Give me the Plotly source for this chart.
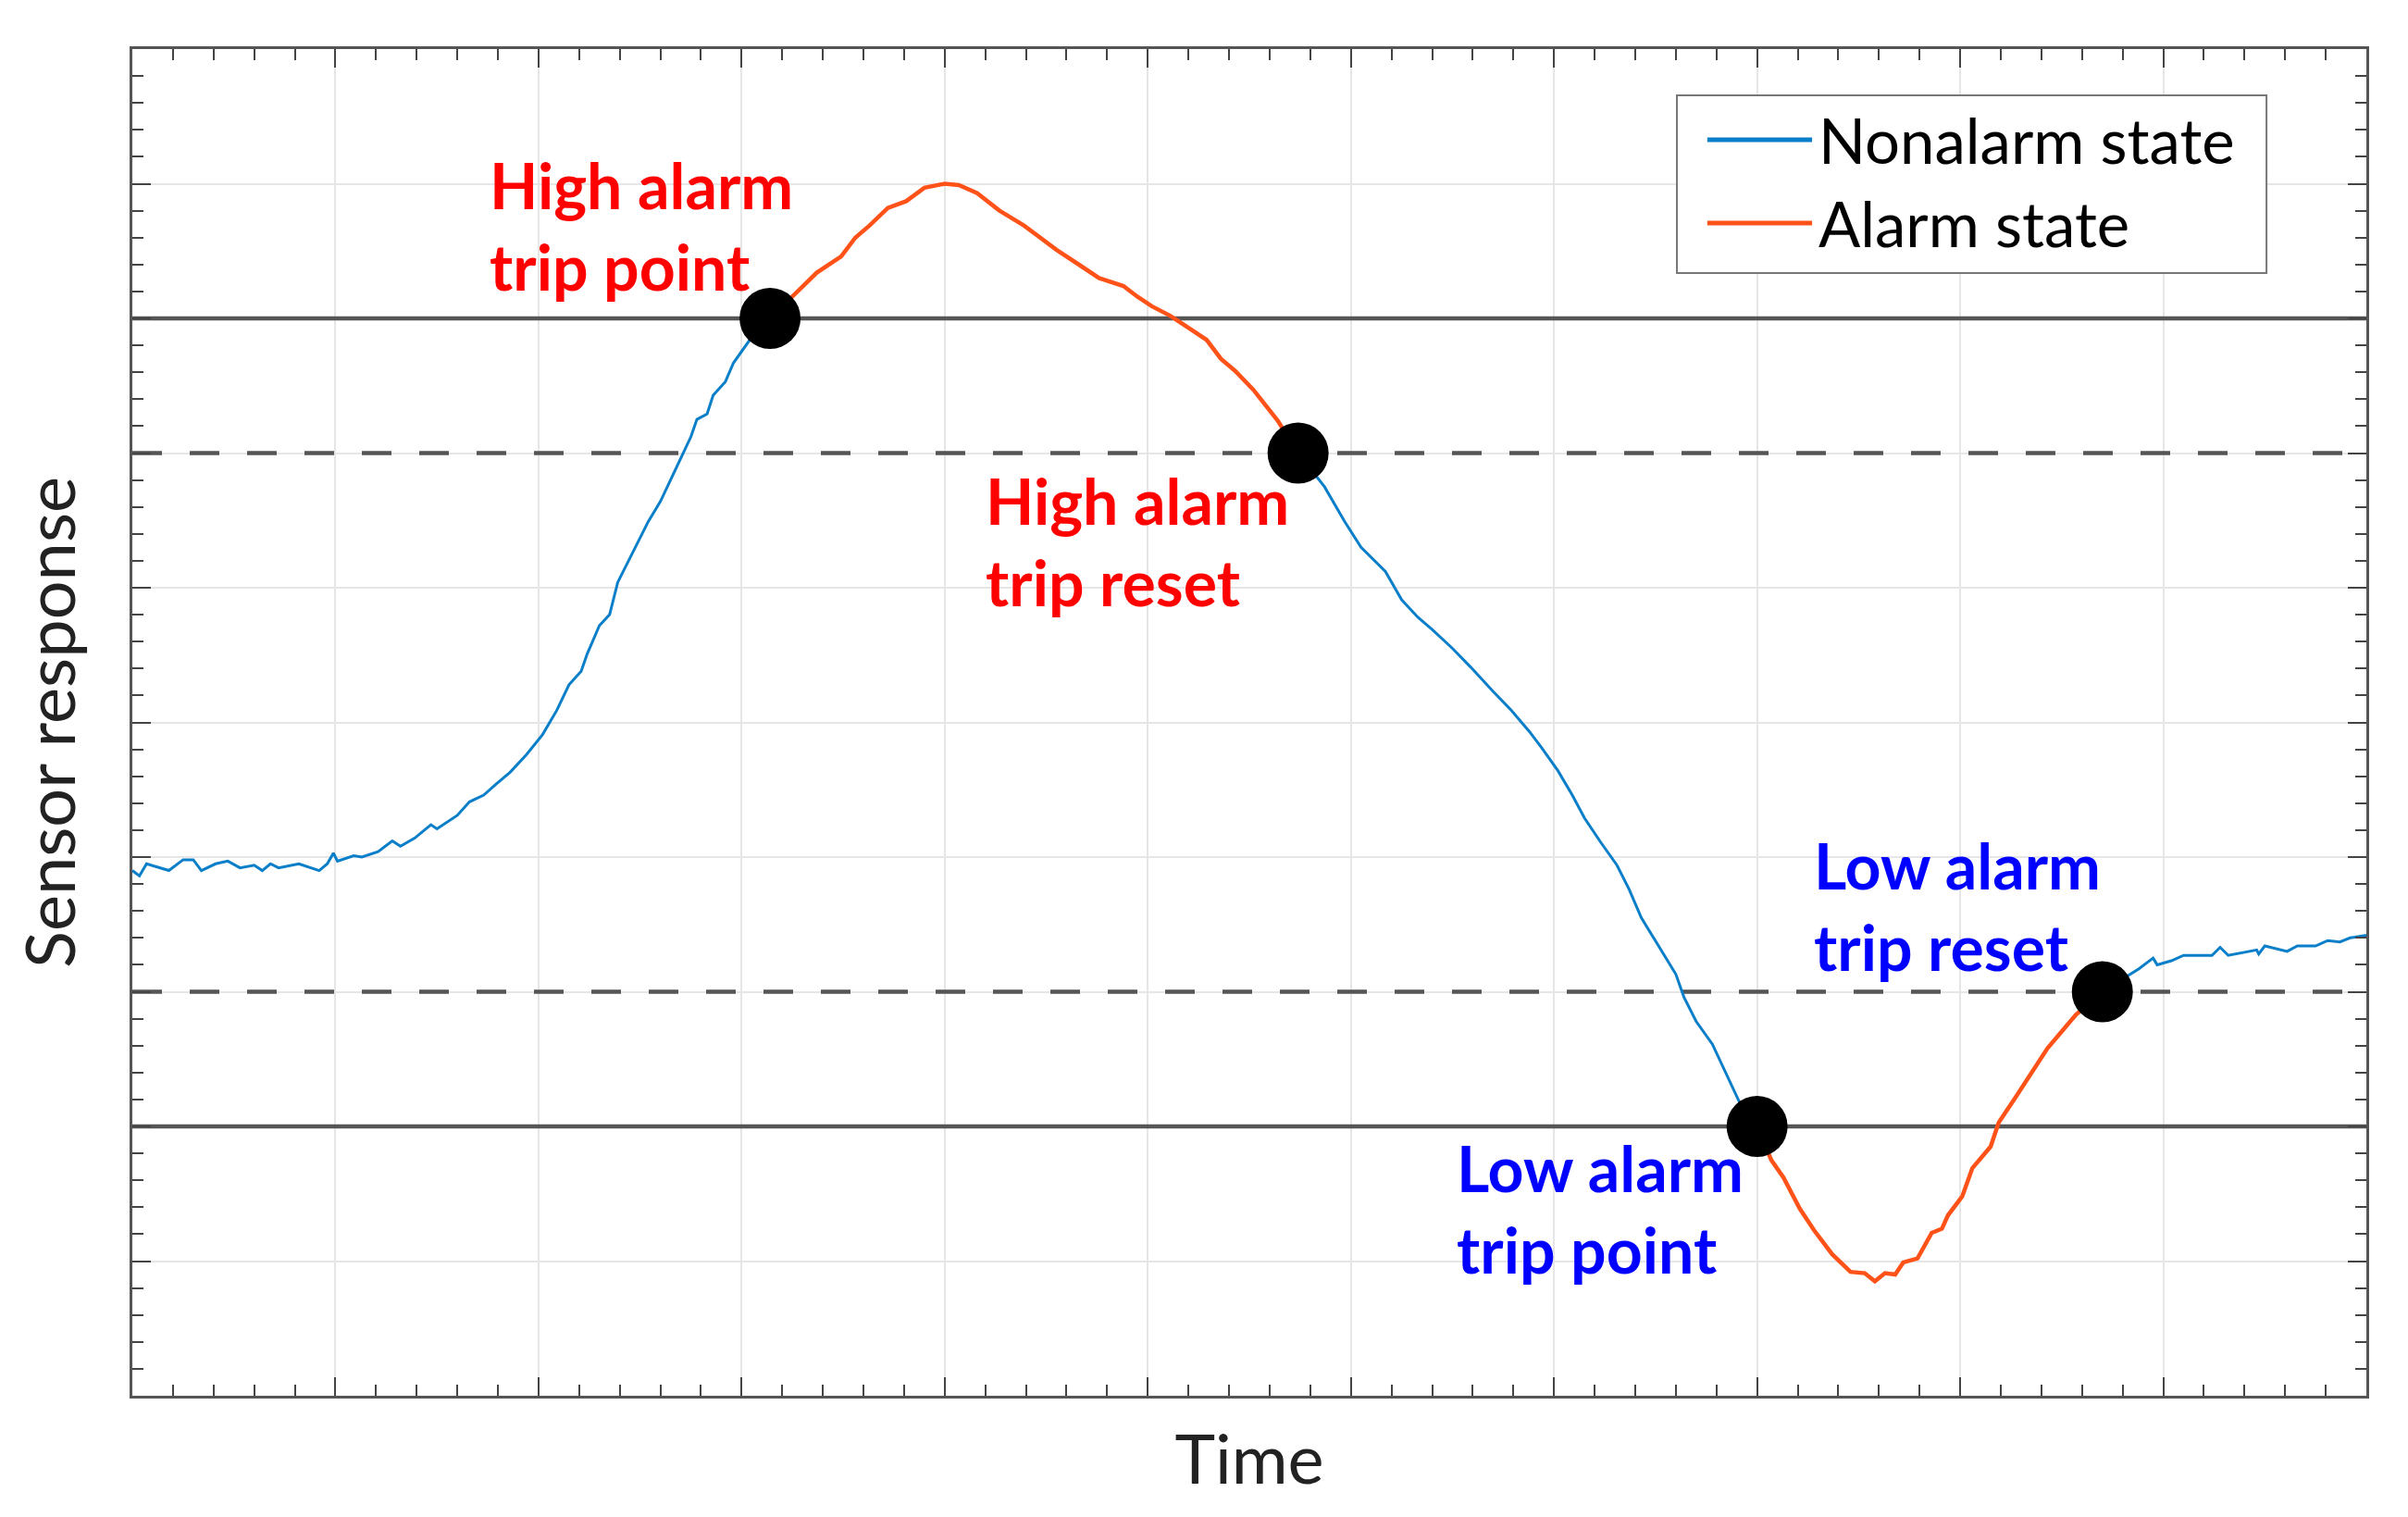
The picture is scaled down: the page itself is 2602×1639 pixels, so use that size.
import plotly.graph_objects as go

# ---- data (time in grid units, response in grid units)
time = [0.00, 0.035, 0.07, 0.18, 0.25, 0.30, 0.34, 0.41, 0.47, 0.53, 0.60, 0.64, 0.68, 0.72,
        0.82, 0.92, 0.96, 0.99, 1.01, 1.09, 1.13, 1.21, 1.28, 1.32, 1.39, 1.47, 1.50, 1.60,
        1.66, 1.73, 1.79, 1.86, 1.94, 2.02, 2.09, 2.15, 2.21, 2.24, 2.30, 2.35, 2.39, 2.45,
        2.50, 2.54, 2.60, 2.66, 2.71, 2.75, 2.78, 2.83, 2.86, 2.92, 2.96, 3.04, 3.14,
        3.28, 3.37, 3.49, 3.56, 3.63, 3.72, 3.81, 3.90, 4.00, 4.07, 4.16, 4.27, 4.39, 4.46,
        4.55, 4.67, 4.76, 4.88, 4.95, 5.02, 5.11, 5.20, 5.29, 5.36, 5.43, 5.52, 5.64, 5.74,
        5.87, 5.97, 6.05, 6.17, 6.25, 6.33, 6.40, 6.50, 6.59, 6.70, 6.79, 6.88, 6.94, 7.02,
        7.09, 7.15, 7.23, 7.31, 7.37, 7.43, 7.50, 7.60, 7.64, 7.70, 7.78, 7.85, 7.91, 8.00,
        8.07, 8.13, 8.21, 8.28, 8.37, 8.46, 8.53, 8.58, 8.63, 8.68, 8.72, 8.79, 8.86, 8.91,
        8.94, 9.01, 9.06, 9.15, 9.19, 9.27, 9.36, 9.43, 9.52, 9.57, 9.70,
        9.86, 9.88, 9.95, 9.97, 10.04, 10.10, 10.24, 10.28, 10.32, 10.39, 10.46, 10.47, 10.50,
        10.61, 10.66, 10.75, 10.81, 10.87, 10.92, 11.00]
response = [3.90, 3.86, 3.95, 3.90, 3.98, 3.98, 3.90, 3.95, 3.97, 3.92, 3.94, 3.90, 3.95, 3.92,
            3.95, 3.90, 3.95, 4.03, 3.97, 4.01, 4.00, 4.04, 4.12, 4.08, 4.14, 4.24, 4.21, 4.31,
            4.41, 4.46, 4.54, 4.63, 4.76, 4.91, 5.09, 5.28, 5.38, 5.51, 5.72, 5.80, 6.04, 6.22,
            6.36, 6.49, 6.64, 6.83, 7.00, 7.12, 7.25, 7.29, 7.43, 7.53, 7.67, 7.84, 8.00,
            8.21, 8.34, 8.46, 8.60, 8.69, 8.82, 8.87, 8.97, 9.00, 8.99, 8.93, 8.80, 8.69, 8.61,
            8.51, 8.39, 8.30, 8.24, 8.16, 8.09, 8.02, 7.93, 7.84, 7.70, 7.61, 7.47, 7.24, 7.00,
            6.75, 6.49, 6.30, 6.12, 5.91, 5.78, 5.69, 5.55, 5.41, 5.23, 5.09, 4.93, 4.81, 4.64,
            4.46, 4.29, 4.11, 3.94, 3.76, 3.55, 3.38, 3.13, 2.96, 2.78, 2.61, 2.39, 2.19, 2.00,
            1.75, 1.62, 1.39, 1.23, 1.05, 0.92, 0.91, 0.85, 0.91, 0.90, 0.99, 1.02, 1.21, 1.24,
            1.34, 1.48, 1.69, 1.85, 2.03, 2.21, 2.42, 2.58, 2.74, 2.83, 3.00,
            3.15, 3.17, 3.25, 3.20, 3.23, 3.27, 3.27, 3.33, 3.27, 3.29, 3.31, 3.28, 3.34,
            3.30, 3.34, 3.34, 3.38, 3.37, 3.40, 3.42]

# alarm windows: (trip time, reset time)
alarm_windows = [(3.14, 5.74), (8.00, 9.70)]

# thresholds
high_trip, high_reset = 8.0, 7.0
low_trip, low_reset = 2.0, 3.0

# event markers
event_time = [3.14, 5.74, 8.00, 9.70]
event_value = [8.0, 7.0, 2.0, 3.0]

labels = ["High alarm<br>trip point", "High alarm<br>trip reset",
          "Low alarm<br>trip point", "Low alarm<br>trip reset"]
label_x = [1.75, 4.19, 6.51, 8.27]
label_y = [8.69, 6.35, 1.39, 3.64]
label_color = ["#FF0000", "#FF0000", "#0000FF", "#0000FF"]

x_range = [0, 11]
y_range = [0, 10]

BLUE = "#0A7FC9"
ORANGE = "#FF5218"
FONT = "Lato"

# split the series into nonalarm / alarm pieces (None = gap)
nx, ny, ax, ay = [], [], [], []
cur = "n"
for ti, vi in zip(time, response):
    edge = any(ti in w for w in alarm_windows)
    inside = any(a < ti < b for a, b in alarm_windows)
    if edge:
        nx.append(ti); ny.append(vi)
        ax.append(ti); ay.append(vi)
        if cur == "n":   # entering alarm
            nx.append(None); ny.append(None)
            cur = "a"
        else:            # leaving alarm
            ax.append(None); ay.append(None)
            cur = "n"
        continue
    if inside:
        ax.append(ti); ay.append(vi)
    else:
        nx.append(ti); ny.append(vi)

fig = go.Figure()

# threshold lines ---------------------------------------------------
for yv, dash in [(high_trip, "solid"), (low_trip, "solid"),
                 (high_reset, "32px,30px"), (low_reset, "32px,30px")]:
    fig.add_trace(go.Scatter(x=x_range, y=[yv, yv], mode="lines",
                             line=dict(color="#555555", width=4.5, dash=dash),
                             showlegend=False, hoverinfo="skip"))

# sensor response ---------------------------------------------------
fig.add_trace(go.Scatter(x=nx, y=ny, mode="lines", name="Nonalarm state",
                         line=dict(color=BLUE, width=3), showlegend=False))
fig.add_trace(go.Scatter(x=ax, y=ay, mode="lines", name="Alarm state",
                         line=dict(color=ORANGE, width=4.5), showlegend=False))

# trip / reset points
fig.add_trace(go.Scatter(x=event_time, y=event_value, mode="markers",
                         marker=dict(color="black", size=66), showlegend=False))

for txt, lx, ly, c in zip(labels, label_x, label_y, label_color):
    fig.add_annotation(x=lx, y=ly, text="<b>" + txt + "</b>", showarrow=False,
                       xanchor="left", yanchor="middle", align="left",
                       font=dict(family=FONT, size=68, color=c))

# legend drawn by hand so the line samples are as long as in the reference
fig.add_shape(type="rect", xref="paper", yref="paper", x0=0.6914, x1=0.9553,
              y0=0.8337, y1=0.9656, line=dict(color="#777777", width=2),
              fillcolor="white", layer="above")
for yy, col, name in [(0.9326, BLUE, "Nonalarm state"), (0.8708, ORANGE, "Alarm state")]:
    fig.add_shape(type="line", xref="paper", yref="paper", x0=0.705, x1=0.7519,
                  y0=yy, y1=yy, line=dict(color=col, width=5), layer="above")
    fig.add_annotation(xref="paper", yref="paper", x=0.754, y=yy, text=name,
                       showarrow=False, xanchor="left", yanchor="middle",
                       font=dict(family=FONT, size=67, color="black"))

axis_common = dict(showticklabels=False, showgrid=True, gridcolor="#e6e6e6", gridwidth=2,
                   zeroline=False, showline=True, linecolor="#555555", linewidth=3,
                   mirror="allticks", ticks="inside", ticklen=20, tickwidth=2,
                   tickcolor="#444444", tick0=0, dtick=1,
                   title_font=dict(family=FONT, size=74, color="#222222"))
minor_ticks = dict(ticks="inside", ticklen=12, tickwidth=2, tickcolor="#444444",
                   dtick=0.2, showgrid=False)

fig.update_xaxes(range=x_range, title_text="Time", title_standoff=42,
                 minor=minor_ticks, **axis_common)
fig.update_yaxes(range=y_range, title_text="Sensor response", title_standoff=40,
                 minor=minor_ticks, **axis_common)

# page body has an 8px margin, so margins are shifted to keep the plot box in place
fig.update_layout(width=2602, height=1639, plot_bgcolor="white", paper_bgcolor="white",
                  margin=dict(l=135, r=53, t=45, b=139), showlegend=False,
                  font=dict(family=FONT))

fig.write_html("out.html")
